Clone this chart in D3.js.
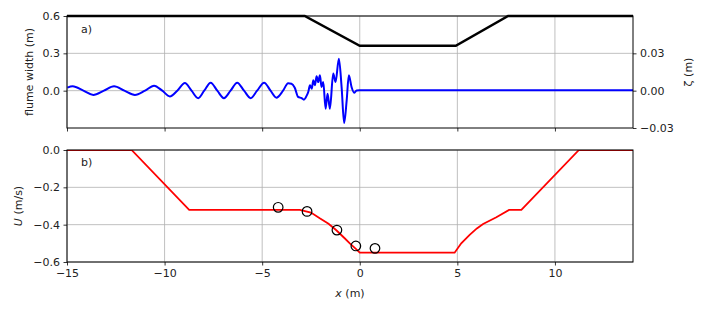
<!DOCTYPE html>
<html>
<head>
<meta charset="utf-8">
<script src="https://cdn.jsdelivr.net/npm/d3@7"></script>
<style>
  body { margin: 0; background: #fff; }
  text { font-family: "DejaVu Sans", sans-serif; fill: #222; }
  .grid line { stroke: #b0b0b0; stroke-width: 0.8; }
</style>
</head>
<body>
<script>
// flume width (top panel, left axis)
var widthX = [-15, -2.82, 0, 4.92, 7.6, 14];
var widthW = [0.6, 0.6, 0.36, 0.36, 0.6, 0.6];

// surface elevation zeta (top panel, right axis)
var zetaX = [-14.98, -14.71, -14.16, -13.65, -13.11, -12.59, -12.06, -11.52, -11.0, -10.54,
  -10.12, -9.73, -9.35, -8.96, -8.62, -8.28, -7.97, -7.64, -7.30, -6.96, -6.62, -6.28,
  -5.93, -5.59, -5.26, -4.90, -4.57, -4.27, -3.93, -3.67, -3.50, -3.33, -3.16, -2.98,
  -2.86, -2.72, -2.64, -2.55, -2.46, -2.38, -2.30, -2.21, -2.13, -2.04, -1.96, -1.87,
  -1.75, -1.65, -1.53, -1.36, -1.24, -1.07, -0.93, -0.80, -0.67, -0.56, -0.42, -0.29,
  -0.16, 0, 3, 8, 14];
var zetaV = [0.0024, 0.0035, 0.0, -0.0035, 0.0, 0.0035, 0.0, -0.0035, 0.0, 0.004,
  0.0, -0.0046, 0.0, 0.0061, 0.0, -0.006, 0.0, 0.0064, 0.0, -0.006, 0.0, 0.0064,
  0.0, -0.006, 0.0, 0.0064, 0.0, -0.0056, 0.0, 0.006, 0.0056, 0.0024, -0.005, -0.006,
  -0.0072, -0.004, -0.0011, 0.0043, 0.0016, 0.0083, 0.0043, 0.0115, 0.0069, 0.0123, 0.0029, 0.0069,
  -0.0145, -0.0024, -0.0145, 0.0137, 0.0069, 0.0257, 0.0029, -0.026, -0.0078, 0.0123, 0.0029, -0.0016,
  0.0002, 0.0004, 0.0004, 0.0004, 0.0004];

// depth-averaged velocity U (bottom panel)
var uX = [-15, -11.69, -8.74, -3.07, -2.5, -2.05, -1.6, -1.2, -0.8, -0.51, -0.2, 0,
  4.86, 5.2, 5.63, 6.0, 6.32, 7.0, 7.65, 8.28, 11.23, 14];
var uV = [0, 0, -0.321, -0.321, -0.335, -0.366, -0.395, -0.43, -0.47, -0.5, -0.53, -0.55,
  -0.55, -0.5, -0.455, -0.42, -0.396, -0.36, -0.321, -0.321, 0, 0];

// measured U (circles)
var obsX = [-4.18, -2.70, -1.17, -0.20, 0.78];
var obsU = [-0.307, -0.329, -0.429, -0.514, -0.527];

var xTicks = [-15, -10, -5, 0, 5, 10];
var wTicks = [0, 0.3, 0.6];
var zTicks = [-0.03, 0, 0.03];
var uTicks = [0, -0.2, -0.4, -0.6];

var W = 708, H = 312;
var left = 67, right = 633;
var topA = 16, botA = 128, topB = 150, botB = 262;

var svg = d3.select("body").append("svg")
  .attr("width", W).attr("height", H);

var x = d3.scaleLinear().domain([-15, 14]).range([left, right]);
var yW = d3.scaleLinear().domain([-0.3, 0.6]).range([botA, topA]);
var yZ = d3.scaleLinear().domain([-0.03, 0.06]).range([botA, topA]);
var yU = d3.scaleLinear().domain([-0.6, 0]).range([botB, topB]);

function fmt(d) { return d3.format(".1f")(d).replace("-", "\u2212"); }
function fmt2(d) { return d3.format(".2f")(d).replace("-", "\u2212"); }

svg.append("defs").selectAll("clipPath")
  .data([["clipA", topA, botA], ["clipB", topB, botB]])
  .enter().append("clipPath").attr("id", function(d) { return d[0]; })
  .append("rect").attr("x", left).attr("y", function(d) { return d[1]; })
  .attr("width", right - left).attr("height", function(d) { return d[2] - d[1]; });

function panel(y0, y1, yScale, yTicks, labels) {
  var g = svg.append("g");
  // grid
  var grid = g.append("g").attr("class", "grid");
  grid.selectAll(".vx").data(xTicks).enter().append("line")
    .attr("x1", x).attr("x2", x).attr("y1", y0).attr("y2", y1);
  grid.selectAll(".hy").data(yTicks).enter().append("line")
    .attr("x1", left).attr("x2", right)
    .attr("y1", yScale).attr("y2", yScale);
  // x axis
  var ax = g.append("g").attr("transform", "translate(0," + y1 + ")")
    .call(d3.axisBottom(x).tickValues(xTicks).tickSize(3.5).tickPadding(3.5)
      .tickFormat(labels ? function(d) { return String(d).replace("-", "\u2212"); } : ""));
  ax.select(".domain").remove();
  ax.selectAll("text").style("font-size", "11px");
  return g;
}

function styleAxis(a) {
  a.select(".domain").remove();
  a.selectAll("line").attr("stroke", "#000").attr("stroke-width", 0.8);
  a.selectAll("text").style("font-size", "11px");
}

// ---- panel a ----
var gA = panel(topA, botA, yW, wTicks, false);
var aL = gA.append("g").attr("transform", "translate(" + left + ",0)")
  .call(d3.axisLeft(yW).tickValues(wTicks).tickSize(3.5).tickPadding(3.5).tickFormat(fmt));
styleAxis(aL);
var aR = gA.append("g").attr("transform", "translate(" + right + ",0)")
  .call(d3.axisRight(yZ).tickValues(zTicks).tickSize(3.5).tickPadding(3.5).tickFormat(fmt2));
styleAxis(aR);

var zLine = d3.line().curve(d3.curveMonotoneX)
  .x(function(d, i) { return x(zetaX[i]); })
  .y(function(d) { return yZ(d); });
gA.append("path").datum(zetaV).attr("clip-path", "url(#clipA)")
  .attr("d", zLine).attr("fill", "none").attr("stroke", "#0000ff").attr("stroke-width", 2);

var wLine = d3.line()
  .x(function(d, i) { return x(widthX[i]); })
  .y(function(d) { return yW(d); });
gA.append("path").datum(widthW)
  .attr("d", wLine).attr("fill", "none").attr("stroke", "#000").attr("stroke-width", 2.5);

gA.append("rect").attr("x", left).attr("y", topA).attr("width", right - left)
  .attr("height", botA - topA).attr("fill", "none").attr("stroke", "#000").attr("stroke-width", 1);

gA.append("text").attr("x", 81).attr("y", 33).style("font-size", "11px").text("a)");
gA.append("text").attr("transform", "translate(33," + ((topA + botA) / 2) + ") rotate(-90)")
  .attr("text-anchor", "middle").style("font-size", "11px").text("flume width (m)");
gA.append("text").attr("transform", "translate(692," + ((topA + botA) / 2) + ") rotate(-90)")
  .attr("text-anchor", "middle").style("font-size", "11px").text("\u03b6 (m)");

// ---- panel b ----
var gB = panel(topB, botB, yU, uTicks, true);
var bL = gB.append("g").attr("transform", "translate(" + left + ",0)")
  .call(d3.axisLeft(yU).tickValues(uTicks).tickSize(3.5).tickPadding(3.5).tickFormat(fmt));
styleAxis(bL);
gB.selectAll(".tick line").attr("stroke", "#000").attr("stroke-width", 0.8);

var uLine = d3.line()
  .x(function(d, i) { return x(uX[i]); })
  .y(function(d) { return yU(d); });
gB.append("path").datum(uV).attr("clip-path", "url(#clipB)")
  .attr("d", uLine).attr("fill", "none").attr("stroke", "#ff0000").attr("stroke-width", 1.8);

gB.selectAll(".obs").data(obsU).enter().append("circle")
  .attr("cx", function(d, i) { return x(obsX[i]); })
  .attr("cy", function(d) { return yU(d); })
  .attr("r", 4.8).attr("fill", "none").attr("stroke", "#000").attr("stroke-width", 1.2);

gB.append("rect").attr("x", left).attr("y", topB).attr("width", right - left)
  .attr("height", botB - topB).attr("fill", "none").attr("stroke", "#000").attr("stroke-width", 1);

gB.append("text").attr("x", 81).attr("y", 166).style("font-size", "11px").text("b)");
var uy = gB.append("text").attr("transform", "translate(22," + ((topB + botB) / 2) + ") rotate(-90)")
  .attr("text-anchor", "middle").style("font-size", "11px");
uy.append("tspan").style("font-style", "italic").text("U");
uy.append("tspan").text(" (m/s)");
var xl = gB.append("text").attr("x", (left + right) / 2).attr("y", 297)
  .attr("text-anchor", "middle").style("font-size", "11px");
xl.append("tspan").style("font-style", "italic").text("x");
xl.append("tspan").text(" (m)");

gA.selectAll(".tick line").attr("stroke", "#000").attr("stroke-width", 0.8);
</script>
</body>
</html>
